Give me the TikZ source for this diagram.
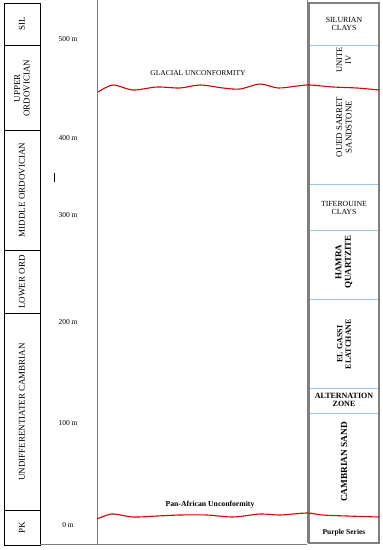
\documentclass[tikz,border=0pt]{standalone}
\usepackage{fontspec}
\setmainfont{Liberation Serif}
\usetikzlibrary{positioning}

\definecolor{sepblue}{HTML}{9DC3E6}
\definecolor{colgray}{HTML}{7F7F7F}

\begin{document}
\begin{tikzpicture}[x=1pt,y=-1pt,
    age node/.style={rotate=90,align=center,font=\fontsize{9}{9.5}\selectfont},
    depth node/.style={font=\fontsize{7.5}{8}\selectfont},
    unit node/.style={align=center,font=\fontsize{7.8}{8.3}\selectfont},
    wave/.style={red!85!black,line width=1.1pt}]
    \useasboundingbox (0,0) rectangle (383,550);
    % left column: ages
    \draw[line width=0.8pt] (4,3) rectangle (40,545);
    \draw[line width=0.6pt] (4,45) -- (40,45) (4,130) -- (40,130) (4,250) -- (40,250)
      (4,313) -- (40,313) (4,510) -- (40,510);
    \node[age node] (sil) at (22,24) {SIL};
    \node[age node] (uord) at (22,88) {UPPER\\ORDOVICIAN};
    \node[age node] (mord) at (22,190) {MIDDLE ORDOVICIAN};
    \node[age node] (lord) at (22,282) {LOWER ORD};
    \node[age node] (camb) at (22,412) {UNDIFFERENTIATER CAMBRIAN};
    \node[age node] (pk) at (22,528) {PK};
    % depth scale
    \node[depth node] (d500) at (68,39) {500 m};
    \node[depth node] (d400) at (68,138) {400 m};
    \node[depth node] (d300) at (68,215) {300 m};
    \node[depth node] (d200) at (68,322) {200 m};
    \node[depth node] (d100) at (68,423) {100 m};
    \node[depth node] (d0) at (68,525) {0 m};
    \draw[line width=0.6pt] (54,173) -- (54,182);
    % main column
    \draw[colgray,line width=0.9pt] (97,0) -- (97,544) (307,0) -- (307,543);
    \draw[colgray,line width=0.9pt] (40,544) -- (307,544);
    % right column: formations
    \draw[sepblue,line width=0.7pt] (309,45) -- (379,45) (309,184) -- (379,184)
      (309,230) -- (379,230) (309,299) -- (379,299) (309,388) -- (379,388)
      (309,413) -- (379,413);
    \draw[colgray,line width=1.1pt] (309,3) rectangle (379,543);
    \node[unit node] (silcl) at (344,24) {SILURIAN\\CLAYS};
    \node[unit node,rotate=90,font=\fontsize{8.5}{9}\selectfont] (unite) at (344,60) {UNITE\\IV};
    \node[unit node,rotate=90,font=\fontsize{8.8}{9.3}\selectfont] (oued) at (344,127) {OUED SARRET\\SANDSTONE};
    \node[unit node] (tif) at (344,208) {TIFEROUINE\\CLAYS};
    \node[unit node,rotate=90,font=\bfseries\fontsize{9}{9.5}\selectfont] (hamra) at (344,262) {HAMRA\\QUARTZITE};
    \node[unit node,rotate=90,font=\bfseries\fontsize{8}{8.5}\selectfont] (gassi) at (344,344) {EL GASSI\\ELATCHANE};
    \node[unit node,font=\bfseries\fontsize{8}{8.5}\selectfont] (alt) at (344,400) {ALTERNATION\\ZONE};
    \node[unit node,rotate=90,font=\bfseries\fontsize{9.3}{9.8}\selectfont] (csand) at (344,462) {CAMBRIAN SAND};
    \node[unit node,font=\bfseries\fontsize{7.5}{8}\selectfont] (purple) at (344,533) {Purple Series};
    % unconformities
    \draw[wave] plot[smooth] coordinates {(98,92) (113,85) (133,90) (157,87) (180,88)
      (200,85) (223,88) (240,89) (260,84) (278,88) (297,86) (310,85) (333,87) (357,88) (379,90)};
    \node[unit node,font=\fontsize{7.5}{8}\selectfont] (glac) at (198,73) {GLACIAL UNCONFORMITY};
    \draw[wave] plot[smooth] coordinates {(97,519) (112,514) (133,517) (157,516) (180,515)
      (207,515) (233,517) (260,514) (280,515) (307,513) (322,515) (347,516) (379,517)};
    \node[unit node,font=\bfseries\fontsize{7.7}{8}\selectfont] (panaf) at (210,505) {Pan-African Unconformity};
\end{tikzpicture}
\end{document}
